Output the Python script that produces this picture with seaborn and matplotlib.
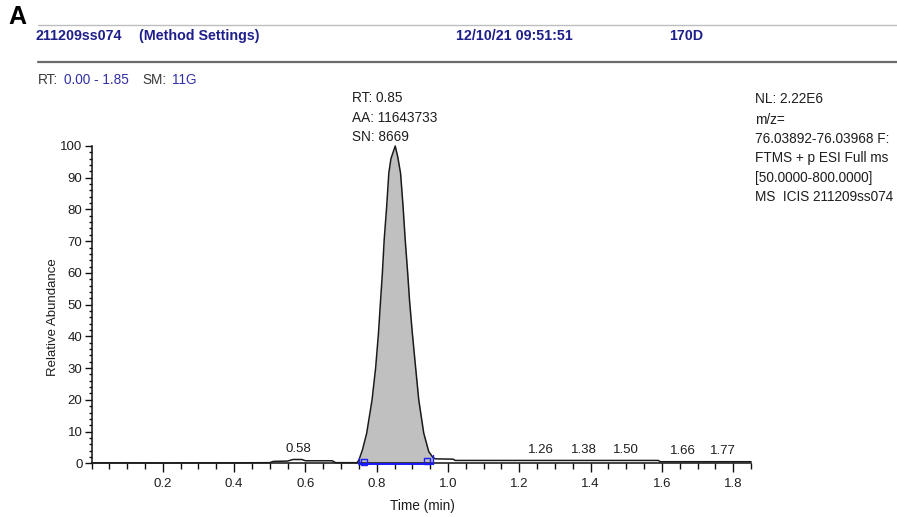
import numpy as np
import pandas as pd
import matplotlib
matplotlib.use("Agg")
import matplotlib.pyplot as plt
from matplotlib.lines import Line2D
from matplotlib.ticker import MultipleLocator, FixedLocator, FuncFormatter
import seaborn as sns

# Extracted ion chromatogram: retention time (min) vs relative abundance (%)
time_min = [0.00, 0.10, 0.20, 0.30, 0.40, 0.50, 0.51, 0.55, 0.565, 0.59,
            0.60, 0.675, 0.685, 0.745, 0.750, 0.760, 0.772, 0.787, 0.797, 0.805,
            0.811, 0.816, 0.821, 0.828, 0.834, 0.840, 0.852, 0.859, 0.867, 0.874,
            0.880, 0.887, 0.892, 0.900, 0.909, 0.918, 0.932, 0.946, 0.958, 0.965,
            1.015, 1.020, 1.590, 1.595, 1.85]
rel_abundance = [0.15, 0.15, 0.10, 0.15, 0.15, 0.2, 0.6, 0.7, 1.2, 1.2,
                 0.8, 0.8, 0.2, 0.2, 1.0, 4.2, 9.5, 20.0, 30.0, 41.0,
                 51.5, 60.0, 70.4, 80.9, 91.4, 96.0, 100.0, 96.6, 91.4, 80.9,
                 70.4, 59.9, 51.5, 41.0, 30.4, 20.0, 9.5, 3.7, 1.8, 1.4,
                 1.3, 0.9, 0.9, 0.5, 0.5]

# Integrated peak window and apex annotation
peak_start = 0.750
peak_end = 0.958
peak_info = ["RT: 0.85", "AA: 11643733", "SN: 8669"]

# Minor peaks labelled with their retention times
minor_peak_rt = [0.58, 1.26, 1.38, 1.50, 1.66, 1.77]

# Axis ticks
x_major = [0.2, 0.4, 0.6, 0.8, 1.0, 1.2, 1.4, 1.6, 1.8]
y_major = [0, 10, 20, 30, 40, 50, 60, 70, 80, 90, 100]

# Header / scan information
header_fields = ["211209ss074", "(Method Settings)", "12/10/21 09:51:51", "170D"]
range_info = [("RT:", "0.00 - 1.85"), ("SM:", "11G")]
scan_info = ["NL: 2.22E6", "m/z=", "76.03892-76.03968 F:", "FTMS + p ESI Full ms",
             "[50.0000-800.0000]", "MS  ICIS 211209ss074"]

sns.set_theme(style="white")
plt.rcParams["font.family"] = ["Liberation Sans", "DejaVu Sans"]

W, H = 897, 517
fig = plt.figure(figsize=(W / 100, H / 100), dpi=100)
ax = fig.add_axes([91.5 / W, (H - 463.3) / H, 659.5 / W, 317.3 / H])


def fx(px):
    return px / W


def fy(py):
    return 1 - py / H


TXT = "#1e1e1e"
NAVY = "#1f1f8c"
BLUE = "#3030a8"

df = pd.DataFrame({"Time (min)": time_min, "Relative Abundance": rel_abundance})

# Shaded integrated area under the main peak
tt = np.linspace(peak_start, peak_end, 400)
yy = np.interp(tt, time_min, rel_abundance)
ax.fill_between(tt, 0, yy, color="#c0c0c0", lw=0, zorder=1)

sns.lineplot(data=df, x="Time (min)", y="Relative Abundance", ax=ax,
             estimator=None, sort=True, color="#1a1a1a", lw=1.1, zorder=3)
for ln in ax.lines:
    ln.set_clip_on(False)

# Integration baseline and boundary markers
ax.plot([peak_start, peak_end], [-0.1, -0.1], color="#1a1aff", lw=1.4,
        clip_on=False, zorder=4)
ax.plot([peak_start, peak_start], [-0.3, 1.8], color="#1a1aff", lw=1.0,
        clip_on=False, zorder=4)
ax.plot([peak_end, peak_end], [-0.2, 2.6], color="#1a1aff", lw=1.0,
        clip_on=False, zorder=4)
ax.plot([peak_start + 0.014, peak_end - 0.016], [0.4, 0.7], ls="none",
        marker="s", ms=4.6, mfc="none", mec="#1a1aff", mew=1.0,
        clip_on=False, zorder=4)

# Retention time labels of the small peaks
for rt in minor_peak_rt:
    y_lab = np.interp(rt, time_min, rel_abundance) + 3.4
    ax.text(rt, y_lab, f"{rt:.2f}", ha="center", va="center",
            fontsize=9.5, color=TXT)

# Apex annotation
for i, line in enumerate(peak_info):
    fig.text(fx(351.5), fy(98 + i * 19.5), line, ha="left", va="center",
             fontsize=9.8, color=TXT)

ax.set_xlim(0, 1.85)
ax.set_ylim(0, 100)
ax.xaxis.set_major_locator(FixedLocator(x_major))
ax.xaxis.set_minor_locator(MultipleLocator(0.05))
ax.xaxis.set_major_formatter(FuncFormatter(lambda v, p: f"{v:.1f}"))
ax.yaxis.set_major_locator(FixedLocator(y_major))
ax.yaxis.set_minor_locator(MultipleLocator(2))

for side in ["top", "right"]:
    ax.spines[side].set_visible(False)
for side in ["left", "bottom"]:
    ax.spines[side].set_color("#111111")
    ax.spines[side].set_linewidth(1.1)

ax.tick_params(axis="x", which="major", direction="out", length=6.5, width=1.0,
               color="#111111", labelsize=9.5, labelcolor=TXT, pad=4, bottom=True)
ax.tick_params(axis="x", which="minor", direction="out", length=4.5, width=1.0,
               color="#111111", bottom=True)
ax.tick_params(axis="y", which="major", direction="out", length=5, width=1.0,
               color="#111111", labelsize=9.5, labelcolor=TXT, pad=1.5, left=True)
ax.tick_params(axis="y", which="minor", direction="out", length=2.4, width=1.0,
               color="#111111", left=True)

ax.set_xlabel("Time (min)", fontsize=9.8, color=TXT)
ax.set_ylabel("Relative Abundance", fontsize=9.5, color=TXT)
ax.xaxis.label.set_va("center")
ax.yaxis.label.set_va("center")
ax.xaxis.set_label_coords((422 - 91.5) / 659.5, (463.3 - 506) / 317.3)
ax.yaxis.set_label_coords((53 - 91.5) / 659.5, (463.3 - 316.7) / 317.3)
ax.set_facecolor("white")
ax.grid(False)

# Panel letter and header rules
fig.text(fx(8), fy(17), "A", ha="left", va="center", fontsize=18,
         fontweight="bold", color="black")
fig.add_artist(Line2D([fx(37.5), 1.0], [fy(25), fy(25)], color="#bdbdbd", lw=1.0))
fig.add_artist(Line2D([fx(37.5), 1.0], [fy(62.3), fy(62.3)], color="#6a6a6a", lw=1.6))

for xpix, field in zip([35, 139, 456, 669], header_fields):
    fig.text(fx(xpix), fy(36), field, ha="left", va="center", fontsize=10.3,
             fontweight="bold", color=NAVY)

for (xk, xv), (key, val) in zip([(37.5, 64), (142, 172)], range_info):
    fig.text(fx(xk), fy(80.5), key, ha="left", va="center", fontsize=9.8, color="#3a3a3a")
    fig.text(fx(xv), fy(80.5), val, ha="left", va="center", fontsize=9.8, color=BLUE)

for ypix, line in zip([99, 120, 139, 158, 178, 197], scan_info):
    fig.text(fx(755), fy(ypix), line, ha="left", va="center", fontsize=9.8, color=TXT)

fig.savefig("out.png", dpi=100, facecolor="white")
